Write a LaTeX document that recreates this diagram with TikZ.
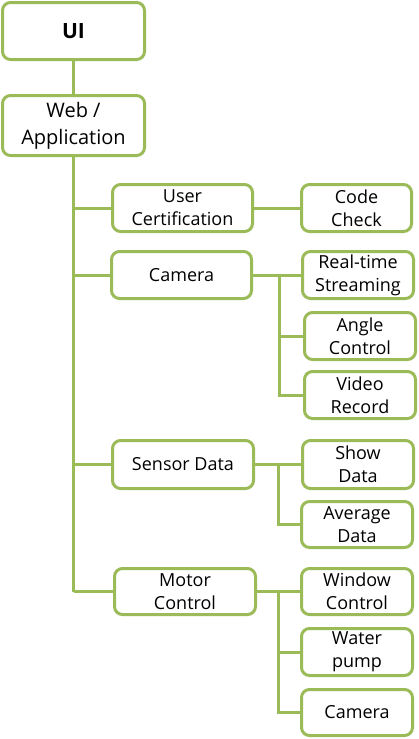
\documentclass[tikz,border=0pt]{standalone}
\usepackage{fontspec}
\setmainfont{Open Sans}
\definecolor{olive}{HTML}{9BBB59}
\begin{document}
\begin{tikzpicture}[x=1pt,y=-1pt,
  box/.style={draw=olive, line width=3pt, rounded corners=8pt, fill=white,
    align=center, inner sep=0pt, text=black,
    font={\fontsize{18}{23}\selectfont}},
  conn/.style={draw=olive, line width=3pt}]
\useasboundingbox (0,0) rectangle (419,739);
\node[box, minimum width=142, minimum height=57, font={\fontsize{21}{26}\selectfont\bfseries}] (ui) at (73.5,31) {UI};
\node[box, minimum width=142, minimum height=60, font={\fontsize{20}{27}\selectfont}] (web) at (73.5,125.5) {Web /\\Application};
\node[box, minimum width=140, minimum height=47] (uc) at (182.5,208) {User\\Certification};
\node[box, minimum width=110, minimum height=47] (cc) at (356.5,208) {Code\\Check};
\node[box, minimum width=140, minimum height=47] (cam) at (181.5,275) {Camera};
\node[box, minimum width=111, minimum height=47] (rts) at (358,275) {Real-time\\Streaming};
\node[box, minimum width=111, minimum height=47] (ang) at (360,336) {Angle\\Control};
\node[box, minimum width=111, minimum height=47] (vid) at (360,395) {Video\\Record};
\node[box, minimum width=141, minimum height=48] (sd) at (183,464.5) {Sensor Data};
\node[box, minimum width=111, minimum height=48] (show) at (358,464.5) {Show\\Data};
\node[box, minimum width=111, minimum height=46] (avg) at (357,524.5) {Average\\Data};
\node[box, minimum width=141, minimum height=46] (mc) at (185,591.5) {Motor\\Control};
\node[box, minimum width=111, minimum height=46] (win) at (357,591.5) {Window\\Control};
\node[box, minimum width=111, minimum height=47] (wat) at (357,652) {Water\\pump};
\node[box, minimum width=111, minimum height=46] (cam2) at (357,712.5) {Camera};
\coordinate (j1) at (279,275);
\coordinate (j2) at (278,464.5);
\coordinate (j3) at (278,591.5);
\begin{scope}[on background layer/.style={}]
\end{scope}
\path[conn] (ui.south) -- (web.north);
\path[conn] (web.south) -- (web.south |- mc.west);
\path[conn] (web.south |- uc.west) -- (uc.west);
\path[conn] (web.south |- cam.west) -- (cam.west);
\path[conn] (web.south |- sd.west) -- (sd.west);
\path[conn] (web.south |- mc.west) -- (mc.west);
\path[conn] (uc.east) -- (cc.west);
\path[conn] (cam.east) -- (rts.west);
\path[conn] (j1) |- (ang.west);
\path[conn] (j1) |- (vid.west);
\path[conn] (sd.east) -- (show.west);
\path[conn] (j2) |- (avg.west);
\path[conn] (mc.east) -- (win.west);
\path[conn] (j3) |- (wat.west);
\path[conn] (j3) |- (cam2.west);
\end{tikzpicture}
\end{document}
